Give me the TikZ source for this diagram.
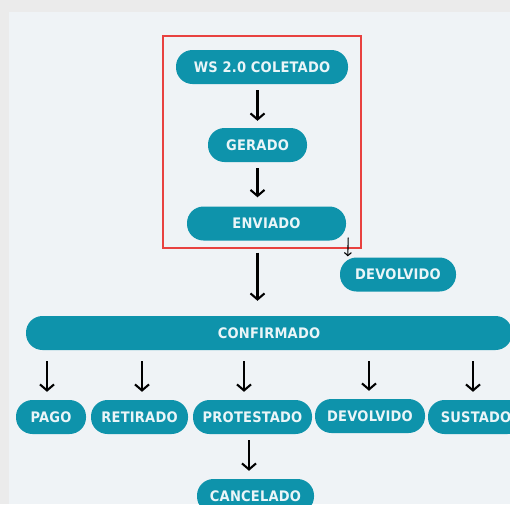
\documentclass[tikz,border=0pt]{standalone}
\usepackage{fontspec}
\setmainfont{DejaVu Sans Condensed}[LetterSpace=1.5]
\usetikzlibrary{arrows.meta,positioning}
\definecolor{stateteal}{HTML}{0E93AB}
\definecolor{statetext}{HTML}{EAF5F8}
\definecolor{panelbg}{HTML}{EFF3F6}
\definecolor{outerbg}{HTML}{EBEBEB}
\definecolor{markred}{HTML}{E8413F}
\tikzset{
  state/.style   = {fill=stateteal, text=statetext, rounded corners=16.5pt,
                    minimum height=34pt, inner sep=0pt,
                    font=\bfseries\fontsize{14.5}{14.5}\selectfont},
  post/.style    = {-{Straight Barb[length=6pt,width=14pt]}, line width=2.1pt,
                    shorten <=6pt, shorten >=7pt},
  tiny post/.style = {-{Straight Barb[length=3pt,width=7pt]}, line width=1.1pt},
  highlight/.style = {draw=markred, line width=1.4pt}
}
\begin{document}
\begin{tikzpicture}[x=1pt,y=-1pt]
  \useasboundingbox (0,0) rectangle (510,504);
  \fill[outerbg] (0,0) rectangle (510,504);
  \fill[panelbg] (9,12) rectangle (510,504);
  % upper chain
  \node[state, minimum width=172pt] (ws) at (262,67) {WS 2.0 COLETADO};
  \node[state, minimum width=99pt] (gera) at (257.5,145) {GERADO};
  \node[state, minimum width=159pt] (envi) at (266.5,223.5) {ENVIADO};
  \node[state, minimum width=116pt] (devt) at (398,274.5) {DEVOLVIDO};
  \draw[highlight] (163,36) rectangle (361,248);
  % confirmed and its outcomes
  \node[state, minimum width=486pt] (conf) at (269,333) {CONFIRMADO};
  \node[state, minimum width=70pt] (pago) at (51,417) {PAGO};
  \node[state, minimum width=97pt] (reti) at (139.5,417) {RETIRADO};
  \node[state, minimum width=119pt] (prot) at (252.5,417) {PROTESTADO};
  \node[state, minimum width=110pt] (devb) at (370,416) {DEVOLVIDO};
  \node[state, minimum width=96pt] (sust) at (476,417) {SUSTADO};
  \node[state, minimum width=117pt] (canc) at (255.5,496) {CANCELADO};

  \draw[post] (ws.south -| gera) -- (gera.north);
  \draw[post, shorten >=9pt] (gera.south) -- (envi.north -| gera);
  \draw[post, shorten <=12pt, shorten >=15pt] (envi.south -| gera) -- (conf.north -| gera);
  \draw[tiny post] (envi.south east) ++(2,-3) -- ([xshift=8pt,yshift=1pt]devt.north west);
  \draw[post, shorten <=11pt, shorten >=8pt] ([xshift=-4pt]conf.south -| pago) -- ([xshift=-4pt]pago.north);
  \draw[post, shorten <=11pt, shorten >=8pt] ([xshift=2.5pt]conf.south -| reti) -- ([xshift=2.5pt]reti.north);
  \draw[post, shorten <=11pt, shorten >=8pt] ([xshift=-8.5pt]conf.south -| prot) -- ([xshift=-8.5pt]prot.north);
  \draw[post, shorten <=11pt, shorten >=8pt] ([xshift=-1pt]conf.south -| devb) -- ([xshift=-1pt]devb.north);
  \draw[post, shorten <=11pt, shorten >=8pt] ([xshift=-3pt]conf.south -| sust) -- ([xshift=-3pt]sust.north);
  \draw[post, shorten >=8pt] ([xshift=-3.5pt]prot.south) -- ([xshift=-6.5pt]canc.north);
\end{tikzpicture}
\end{document}
